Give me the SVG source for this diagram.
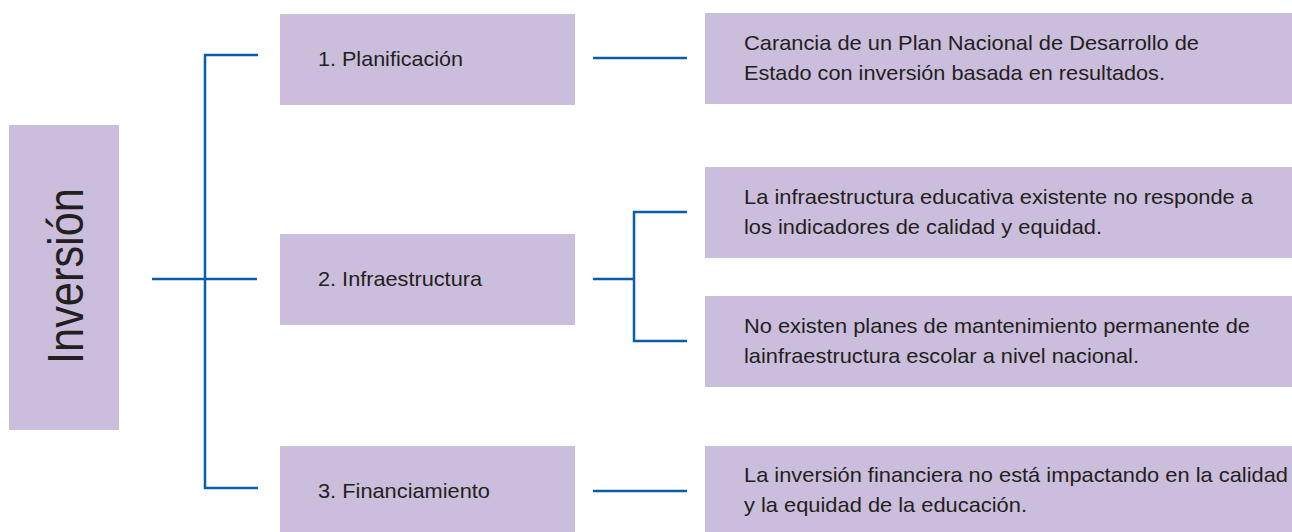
<svg xmlns="http://www.w3.org/2000/svg" width="1292" height="532" viewBox="0 0 1292 532">
<style>
.box{fill:#cbbddc}
.lbl{font-family:"Liberation Sans",Arial,sans-serif;font-size:21px;fill:#231f20}
.desc{font-family:"Liberation Sans",Arial,sans-serif;font-size:21px;fill:#231f20}
.conn{fill:none;stroke:#0b5cab;stroke-width:2.5}
</style>
<rect width="1292" height="532" fill="#ffffff"/>
<g id="connectors">
<path class="conn" d="M258,55 H205 V488 H258"/>
<path class="conn" d="M152,279 H257"/>
<path class="conn" d="M593,58 H687"/>
<path class="conn" d="M593,279 H634"/>
<path class="conn" d="M687,212 H634 V341 H687"/>
<path class="conn" d="M593,491 H687"/>
</g>
<g id="inversion">
<rect class="box" x="9" y="125" width="110" height="305"/>
<text class="lbl" transform="translate(83,276) rotate(-90)" text-anchor="middle" style="font-size:50px" textLength="176" lengthAdjust="spacingAndGlyphs">Inversión</text>
</g>
<g id="planificacion">
<rect class="box" x="280" y="14" width="295" height="91"/>
<text class="lbl" x="318" y="66" textLength="145" lengthAdjust="spacingAndGlyphs">1. Planificación</text>
</g>
<g id="infraestructura">
<rect class="box" x="280" y="234" width="295" height="91"/>
<text class="lbl" x="318" y="286" textLength="164" lengthAdjust="spacingAndGlyphs">2. Infraestructura</text>
</g>
<g id="financiamiento">
<rect class="box" x="280" y="446" width="295" height="86"/>
<text class="lbl" x="318" y="498" textLength="172" lengthAdjust="spacingAndGlyphs">3. Financiamiento</text>
</g>
<g id="desc1">
<rect class="box" x="705" y="13" width="587" height="91"/>
<text class="desc" x="744" y="50" textLength="455" lengthAdjust="spacingAndGlyphs">Carancia de un Plan Nacional de Desarrollo de</text>
<text class="desc" x="744" y="80" textLength="421" lengthAdjust="spacingAndGlyphs">Estado con inversión basada en resultados.</text>
</g>
<g id="desc2">
<rect class="box" x="705" y="167" width="587" height="91"/>
<text class="desc" x="744" y="204" textLength="509" lengthAdjust="spacingAndGlyphs">La infraestructura educativa existente no responde a</text>
<text class="desc" x="744" y="234" textLength="358" lengthAdjust="spacingAndGlyphs">los indicadores de calidad y equidad.</text>
</g>
<g id="desc3">
<rect class="box" x="705" y="296" width="587" height="91"/>
<text class="desc" x="744" y="333" textLength="506" lengthAdjust="spacingAndGlyphs">No existen planes de mantenimiento permanente de</text>
<text class="desc" x="744" y="363" textLength="395" lengthAdjust="spacingAndGlyphs">lainfraestructura escolar a nivel nacional.</text>
</g>
<g id="desc4">
<rect class="box" x="705" y="446" width="587" height="86"/>
<text class="desc" x="744" y="482" textLength="544" lengthAdjust="spacingAndGlyphs">La inversión financiera no está impactando en la calidad</text>
<text class="desc" x="744" y="512" textLength="283" lengthAdjust="spacingAndGlyphs">y la equidad de la educación.</text>
</g>
</svg>
